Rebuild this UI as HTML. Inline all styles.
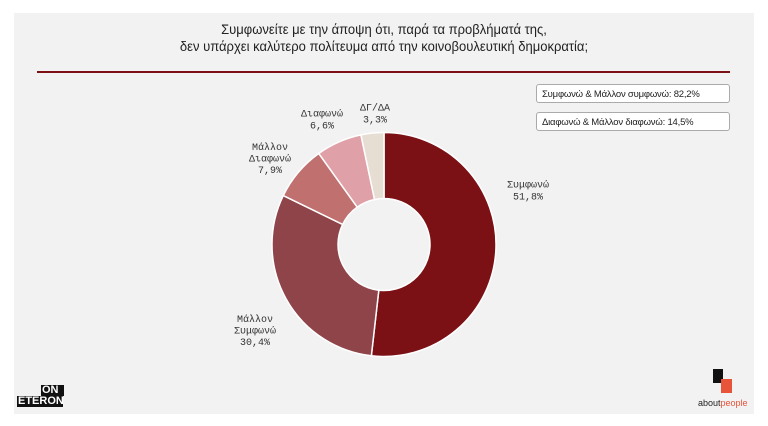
<!DOCTYPE html>
<html><head><meta charset="utf-8"><style>
body{margin:0;width:768px;height:426px;background:#fff;position:relative;overflow:hidden;font-family:"Liberation Sans","DejaVu Sans",sans-serif}
#panel{position:absolute;left:14px;top:13px;width:740px;height:401px;background:#f2f2f2}
.t{position:absolute;left:0;width:768px;text-align:center;font-size:14px;color:#222;font-family:"Liberation Sans Narrow","Liberation Sans",sans-serif;transform:scaleX(0.93)}
.box{position:absolute;left:536px;width:194px;height:19px;border:1px solid #aaa;border-radius:3px;background:#fff;font-size:9.5px;line-height:19px;padding-left:5px;box-sizing:border-box;color:#222;letter-spacing:-0.2px}
svg{position:absolute;left:0;top:0}
.lbl{font-family:"Liberation Mono","DejaVu Sans Mono",monospace;font-size:10px;fill:#333;text-anchor:middle}
</style></head><body>
<div id="panel"></div>
<div class="t" style="top:21px">Συμφωνείτε με την άποψη ότι, παρά τα προβλήματά της,</div>
<div class="t" style="top:38px">δεν υπάρχει καλύτερο πολίτευμα από την κοινοβουλευτική δημοκρατία;</div>
<div style="position:absolute;left:37px;top:71px;width:693px;height:2px;background:#7b1115"></div>
<div class="box" style="top:84px">Συμφωνώ &amp; Μάλλον συμφωνώ: 82,2%</div>
<div class="box" style="top:112px">Διαφωνώ &amp; Μάλλον διαφωνώ: 14,5%</div>
<svg id="chart" width="768" height="426"></svg>
<div style="position:absolute;left:17px;top:385px;font:bold 11px 'Liberation Sans',sans-serif;line-height:11px">
<span style="display:block;margin-left:24px;background:#111;color:#fff;padding:0 1px;width:21px">ON</span>
<span style="display:block;background:#111;color:#fff;padding:0 1px;width:44px">ETERON</span></div>
<div style="position:absolute;left:713px;top:369px;width:10px;height:14px;background:#111"></div>
<div style="position:absolute;left:721px;top:379px;width:11px;height:14px;background:#e8543a"></div>
<div style="position:absolute;left:698px;top:398px;font-size:9px;color:#222">about<span style="color:#e8543a">people</span></div>
<script>
const categories=["Συμφωνώ","Μάλλον Συμφωνώ","Μάλλον Διαφωνώ","Διαφωνώ","ΔΓ/ΔΑ"];
const values=[51.8,30.4,7.9,6.6,3.3];
const valueLabels=["51,8%","30,4%","7,9%","6,6%","3,3%"];
const colors=["#7b1115","#8e4448","#bf706f","#e0a0a8","#e6ddd3"];
const labelLines=[["Συμφωνώ"],["Μάλλον","Συμφωνώ"],["Μάλλον","Διαφωνώ"],["Διαφωνώ"],["ΔΓ/ΔΑ"]];
const NS="http://www.w3.org/2000/svg";
const svg=document.getElementById('chart');
const cx=384,cy=244.5,R=112,r=46;
const labelOffsets=[[144,-54],[-129,86],[-114,-86],[-62,-125],[-9,-131]];
const total=values.reduce((a,b)=>a+b,0);
function pt(a,rad){return [cx+rad*Math.sin(a),cy-rad*Math.cos(a)];}
let acc=0;
values.forEach((v,i)=>{
  const a0=acc/total*2*Math.PI; acc+=v; const a1=acc/total*2*Math.PI;
  const lg=(a1-a0)>Math.PI?1:0;
  const [x0,y0]=pt(a0,R),[x1,y1]=pt(a1,R),[x2,y2]=pt(a1,r),[x3,y3]=pt(a0,r);
  const p=document.createElementNS(NS,'path');
  p.setAttribute('d',`M${x0},${y0}A${R},${R} 0 ${lg} 1 ${x1},${y1}L${x2},${y2}A${r},${r} 0 ${lg} 0 ${x3},${y3}Z`);
  p.setAttribute('fill',colors[i]);p.setAttribute('stroke','#fff');p.setAttribute('stroke-width','1.5');
  
  
  svg.appendChild(p);
  const lx=cx+labelOffsets[i][0], ly=cy+labelOffsets[i][1];
  const lines=labelLines[i].concat([valueLabels[i]]);
  const t=document.createElementNS(NS,'text');
  t.setAttribute('class','lbl');
  
  
  lines.forEach((s,k)=>{const ts=document.createElementNS(NS,'tspan');ts.setAttribute('x',lx);ts.setAttribute('y',ly-(lines.length-1)*5.8+k*11.6+3);ts.textContent=s;t.appendChild(ts);});
  svg.appendChild(t);
});
</script>
</body></html>
